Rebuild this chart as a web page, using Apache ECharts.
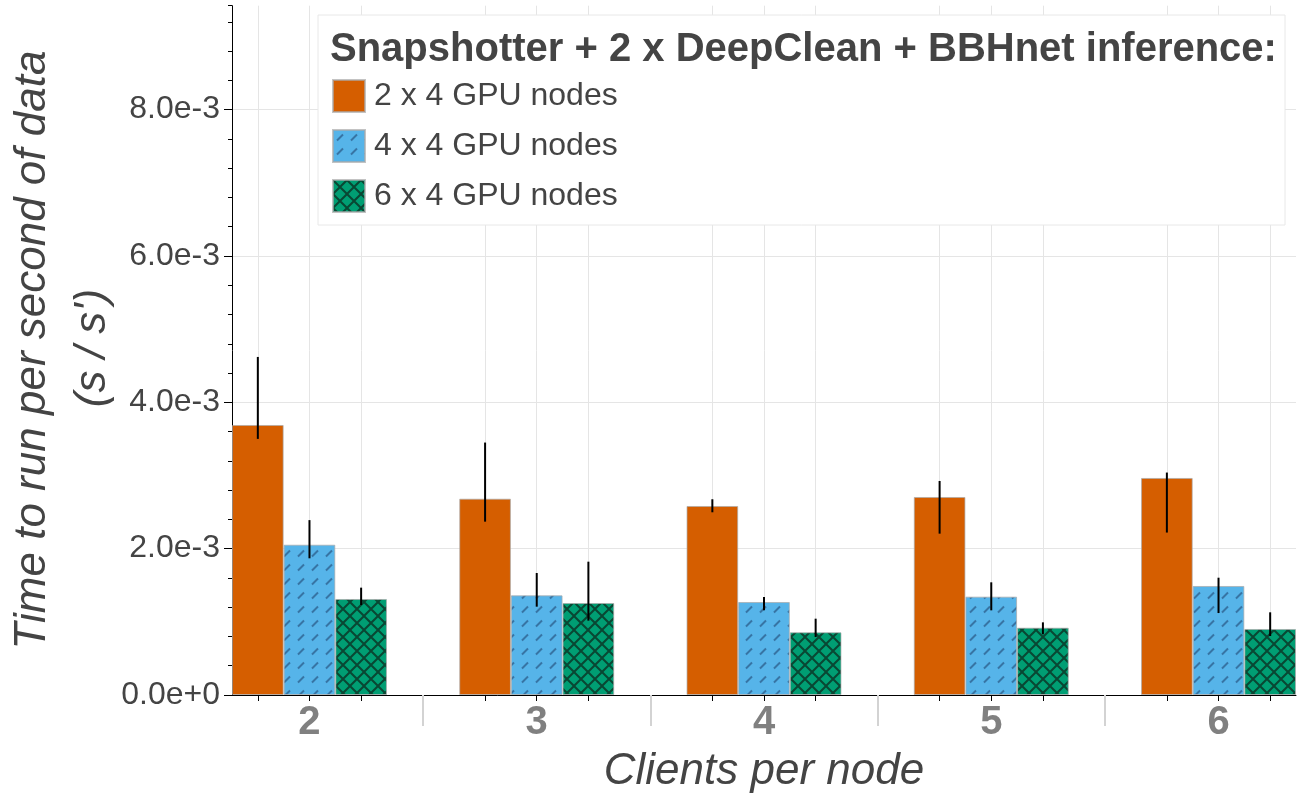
<!DOCTYPE html>
<html>
<head>
<meta charset="utf-8">
<script src="https://cdn.jsdelivr.net/npm/echarts@6/dist/echarts.min.js"></script>
<style>html,body{margin:0;padding:0;background:#fff}#c{width:1300px;height:800px}</style>
</head>
<body>
<div id="c"></div>
<script>
// ---- data ----
const categories = ['2', '3', '4', '5', '6'];
const seriesNames = ['2 x 4 GPU nodes', '4 x 4 GPU nodes', '6 x 4 GPU nodes'];
const mean2x4 = [3.69e-3, 2.683e-3, 2.583e-3, 2.706e-3, 2.966e-3];
const low2x4  = [3.50e-3, 2.369e-3, 2.497e-3, 2.205e-3, 2.22e-3];
const high2x4 = [4.62e-3, 3.45e-3, 2.675e-3, 2.925e-3, 3.04e-3];
const mean4x4 = [2.054e-3, 1.362e-3, 1.271e-3, 1.344e-3, 1.49e-3];
const low4x4  = [1.868e-3, 1.207e-3, 1.157e-3, 1.157e-3, 1.12e-3];
const high4x4 = [2.39e-3, 1.667e-3, 1.339e-3, 1.54e-3, 1.603e-3];
const mean6x4 = [1.312e-3, 1.257e-3, 0.857e-3, 0.92e-3, 0.902e-3];
const low6x4  = [1.23e-3, 1.016e-3, 0.793e-3, 0.83e-3, 0.806e-3];
const high6x4 = [1.467e-3, 1.822e-3, 1.043e-3, 0.993e-3, 1.13e-3];
const yTickValues = [0, 2e-3, 4e-3, 6e-3, 8e-3];
const yMax = 9.42e-3;
const yMinorStep = 0.4e-3;
const legendTitle = 'Snapshotter + 2 x DeepClean + BBHnet inference:';
const xTitle = 'Clients per node';
const yTitle1 = 'Time to run per second of data';
const yTitle2 = "(s / s')";

// ---- layout ----
const means = [mean2x4, mean4x4, mean6x4];
const lows = [low2x4, low4x4, low6x4];
const highs = [high2x4, high4x4, high6x4];
const N = seriesNames.length;
const GROUP_PAD = 1.4;
const STEP = N + GROUP_PAD;
const pos = (g, i) => g * STEP + i + 0.5;
const xMax = (categories.length - 1) * STEP + N;
const barCenters = [], groupCenters = [], separators = [];
categories.forEach((c, g) => {
  for (let i = 0; i < N; i++) barCenters.push(pos(g, i));
  groupCenters.push(g * STEP + N / 2);
  if (g > 0) separators.push(g * STEP - GROUP_PAD / 2);
});
const GRID = {left: 232, right: 4, top: 5.7, bottom: 105};
const barPx = (1300 - GRID.left - GRID.right) / xMax;
const FONT = '"Liberation Sans", Arial, Helvetica, sans-serif';

function makePattern(kind) {
  const s = 14;
  const cv = document.createElement('canvas');
  cv.width = s; cv.height = s;
  const ctx = cv.getContext('2d');
  if (kind === 'slash') {
    ctx.fillStyle = '#56B4E9';
    ctx.fillRect(0, 0, s, s);
    ctx.strokeStyle = 'rgba(45,95,140,0.75)';
    ctx.lineWidth = 2;
    ctx.lineCap = 'butt';
    ctx.beginPath();
    ctx.moveTo(4, 10.5); ctx.lineTo(10, 4.5);
    ctx.stroke();
  } else {
    ctx.fillStyle = '#009E73';
    ctx.fillRect(0, 0, s, s);
    ctx.strokeStyle = 'rgba(10,55,40,0.85)';
    ctx.lineWidth = 2;
    ctx.beginPath();
    ctx.moveTo(-2, -2); ctx.lineTo(s + 2, s + 2);
    ctx.moveTo(s + 2, -2); ctx.lineTo(-2, s + 2);
    ctx.stroke();
  }
  return {image: cv, repeat: 'repeat'};
}
const fills = ['#D55E00', makePattern('slash'), makePattern('cross')];

const barSeries = seriesNames.map((name, i) => ({
  name: name,
  type: 'bar',
  xAxisIndex: 0,
  yAxisIndex: 0,
  barWidth: barPx,
  barGap: '-100%',
  z: 2,
  itemStyle: {color: fills[i], borderColor: 'rgba(170,170,170,0.7)', borderWidth: 1},
  emphasis: {disabled: true},
  data: categories.map((c, g) => [pos(g, i), means[i][g]])
}));

const errData = [];
seriesNames.forEach((n, i) => categories.forEach((c, g) => errData.push([pos(g, i), lows[i][g], highs[i][g]])));

const errSeries = {
  name: 'error',
  type: 'custom',
  xAxisIndex: 0,
  yAxisIndex: 0,
  z: 5,
  encode: {x: 0, y: [1, 2]},
  data: errData,
  renderItem: function (params, api) {
    const p1 = api.coord([api.value(0), api.value(1)]);
    const p2 = api.coord([api.value(0), api.value(2)]);
    return {type: 'line', shape: {x1: p1[0], y1: p1[1], x2: p2[0], y2: p2[1]},
            style: {stroke: '#000', lineWidth: 2}};
  }
};

const chart = echarts.init(document.getElementById('c'), null, {renderer: 'canvas'});
chart.setOption({
  animation: false,
  backgroundColor: '#fff',
  textStyle: {fontFamily: FONT},
  grid: GRID,
  xAxis: [{
    type: 'value', min: 0, max: xMax, position: 'bottom',
    axisLine: {show: true, lineStyle: {color: '#000', width: 1}},
    axisTick: {show: true, customValues: barCenters, length: 6, lineStyle: {color: '#000', width: 1}},
    axisLabel: {show: true, customValues: groupCenters, margin: 8,
      formatter: v => categories[Math.round((v - N / 2) / STEP)],
      fontSize: 40, fontWeight: 'bold', color: '#808080', fontFamily: FONT},
    splitLine: {show: true, lineStyle: {color: '#e5e5e5', width: 1}}
  }, {
    type: 'value', min: 0, max: xMax, position: 'bottom', offset: 3,
    axisLine: {show: false},
    axisTick: {show: true, customValues: separators, length: 31, lineStyle: {color: '#d3d3d3', width: 2}},
    axisLabel: {show: false},
    splitLine: {show: false}
  }],
  yAxis: [{
    type: 'value', min: 0, max: yMax, interval: 2e-3, position: 'left',
    axisLine: {show: true, lineStyle: {color: '#000', width: 1}},
    axisTick: {show: true, customValues: yTickValues, length: 8, lineStyle: {color: '#000'}},
    axisLabel: {show: true, customValues: yTickValues, margin: 12,
      formatter: v => Number(v).toExponential(1),
      fontSize: 32, color: '#444', fontFamily: FONT},
    splitLine: {show: true, lineStyle: {color: '#e5e5e5', width: 1}}
  }, {
    type: 'value', min: 0, max: yMax, interval: yMinorStep, position: 'left',
    axisLine: {show: false},
    axisTick: {show: true, length: 4, lineStyle: {color: '#000'}},
    axisLabel: {show: false},
    splitLine: {show: false}
  }],
  legend: {
    data: seriesNames, orient: 'vertical', left: 332, top: 79, padding: 0,
    itemWidth: 32, itemHeight: 32, itemGap: 16, icon: 'rect', z: 20,
    selectedMode: false,
    textStyle: {fontSize: 32, color: '#444', fontFamily: FONT, padding: [0, 0, 0, 4]}
  },
  graphic: [
    {type: 'rect', z: 10, shape: {x: 318, y: 15, width: 967, height: 210},
     style: {fill: '#fff', stroke: '#e8e8e8', lineWidth: 1}},
    {type: 'text', z: 20, x: 330, y: 50,
     style: {text: legendTitle, font: 'bold 40px ' + FONT, fill: '#444', textAlign: 'left', textVerticalAlign: 'middle'}},
    {type: 'text', z: 20, x: 764, y: 772,
     style: {text: xTitle, font: 'italic 44px ' + FONT, fill: '#444', textAlign: 'center', textVerticalAlign: 'middle'}},
    {type: 'text', z: 20, x: 33, y: 350, rotation: Math.PI / 2,
     style: {text: yTitle1, font: 'italic 44px ' + FONT, fill: '#444', textAlign: 'center', textVerticalAlign: 'middle'}},
    {type: 'text', z: 20, x: 93, y: 348, rotation: Math.PI / 2,
     style: {text: yTitle2, font: 'italic 44px ' + FONT, fill: '#444', textAlign: 'center', textVerticalAlign: 'middle'}}
  ],
  series: barSeries.concat([errSeries])
});
</script>
</body>
</html>
